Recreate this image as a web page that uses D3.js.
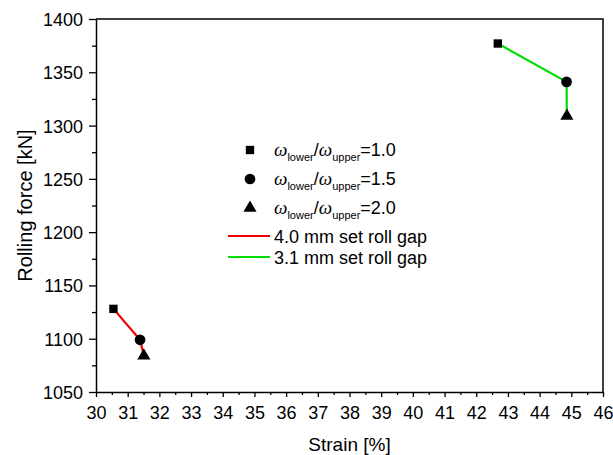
<!DOCTYPE html>
<html>
<head>
<meta charset="utf-8">
<script src="https://cdn.jsdelivr.net/npm/d3@7"></script>
<style>
  body { margin: 0; background: #fff; }
  text { font-family: "Liberation Sans", Arial, sans-serif; fill: #000; }
</style>
</head>
<body>
<div id="graph"></div>
<script>
// values
var ratios = ["1.0", "1.5", "2.0"];
var symbols = ["square", "circle", "triangle"];
var gap40Strain = [30.55, 31.39, 31.51];
var gap40Force = [1128, 1099, 1084];
var gap31Strain = [42.68, 44.85, 44.86];
var gap31Force = [1377, 1341, 1309];
var gapNames = ["4.0 mm set roll gap", "3.1 mm set roll gap"];
var gapColors = ["#f00000", "#00dd00"];
var xTicks = d3.range(30, 47, 1);
var yTicks = d3.range(1050, 1401, 50);

var margin = {top: 19, right: 10, bottom: 63, left: 96},
    width = 613 - margin.left - margin.right,
    height = 455 - margin.top - margin.bottom;

var svg = d3.select("#graph").append("svg")
    .attr("width", 613)
    .attr("height", 455);

var g = svg.append("g")
    .attr("transform", "translate(" + margin.left + "," + margin.top + ")");

var x = d3.scaleLinear().domain([30, 46]).range([0, width]);
var y = d3.scaleLinear().domain([1050, 1400]).range([height, 0]);

// minor ticks first
g.append("g")
    .attr("transform", "translate(0," + height + ")")
    .call(d3.axisBottom(x).tickValues(d3.range(30.5, 46, 1)).tickSize(3).tickFormat(""))
    .call(function(a) { a.select(".domain").remove(); });
g.append("g")
    .call(d3.axisLeft(y).tickValues(d3.range(1075, 1400, 50)).tickSize(4).tickFormat(""))
    .call(function(a) { a.select(".domain").remove(); });

var xAxis = g.append("g")
    .attr("transform", "translate(0," + height + ")")
    .call(d3.axisBottom(x).tickValues(xTicks).tickSize(5).tickPadding(9).tickSizeOuter(0));
xAxis.selectAll("text").style("font-size", "18px");

var yAxis = g.append("g")
    .call(d3.axisLeft(y).tickValues(yTicks).tickFormat(d3.format("d"))
      .tickSize(7).tickPadding(6).tickSizeOuter(0));
yAxis.selectAll("text").style("font-size", "18px").attr("dy", "0.36em");

g.selectAll(".tick line").attr("stroke-width", 1.3);
g.selectAll(".domain").attr("stroke-width", 1.5);

// frame
g.append("path")
    .attr("d", "M0,0H" + width + "V" + height)
    .attr("fill", "none")
    .attr("stroke", "#000")
    .attr("stroke-width", 1.5);

var symType = {square: d3.symbolSquare, circle: d3.symbolCircle, triangle: d3.symbolTriangle};
var symSize = {square: 70, circle: 90, triangle: 75};

var series = [
  {strain: gap40Strain, force: gap40Force, color: gapColors[0]},
  {strain: gap31Strain, force: gap31Force, color: gapColors[1]}
];

var line = d3.line()
    .x(function(d) { return x(d[0]); })
    .y(function(d) { return y(d[1]); });

series.forEach(function(s) {
  var pts = d3.zip(s.strain, s.force);
  g.append("path")
      .datum(pts)
      .attr("d", line)
      .attr("fill", "none")
      .attr("stroke", s.color)
      .attr("stroke-width", 2.2);
  g.selectAll(null)
      .data(pts)
      .enter().append("path")
      .attr("transform", function(d) { return "translate(" + x(d[0]) + "," + y(d[1]) + ")"; })
      .attr("d", function(d, i) { return d3.symbol().type(symType[symbols[i]]).size(symSize[symbols[i]])(); })
      .attr("fill", "#000");
});

// legend
var legend = svg.append("g").attr("transform", "translate(228,150)");
var rowH = [0, 29, 58, 86, 107];

ratios.forEach(function(r, i) {
  var row = legend.append("g").attr("transform", "translate(0," + rowH[i] + ")");
  row.append("path")
      .attr("transform", "translate(22,0)")
      .attr("d", d3.symbol().type(symType[symbols[i]]).size(symSize[symbols[i]])())
      .attr("fill", "#000");
  var t = row.append("text").attr("x", 46).attr("y", 6).style("font-size", "18px");
  t.append("tspan").style("font-family", "'Liberation Serif', serif").style("font-style", "italic").style("font-size", "19px").text("\u03c9");
  t.append("tspan").attr("dy", 5).style("font-size", "11px").text("lower");
  t.append("tspan").attr("dy", -5).style("font-size", "18px").text("/");
  t.append("tspan").style("font-family", "'Liberation Serif', serif").style("font-style", "italic").style("font-size", "19px").text("\u03c9");
  t.append("tspan").attr("dy", 5).style("font-size", "11px").text("upper");
  t.append("tspan").attr("dy", -5).style("font-size", "18px").text("=" + r);
});

gapNames.forEach(function(name, i) {
  var row = legend.append("g").attr("transform", "translate(0," + rowH[3 + i] + ")");
  row.append("line")
      .attr("x1", 0).attr("x2", 42)
      .attr("stroke", gapColors[i])
      .attr("stroke-width", 2.2);
  row.append("text")
      .attr("x", 46).attr("y", 6.5)
      .style("font-size", "18px")
      .text(name);
});

// axis titles
svg.append("text")
    .attr("x", margin.left + width / 2)
    .attr("y", 451)
    .attr("text-anchor", "middle")
    .style("font-size", "19px")
    .text("Strain [%]");

svg.append("text")
    .attr("transform", "translate(32," + (margin.top + height / 2) + ") rotate(-90)")
    .attr("text-anchor", "middle")
    .style("font-size", "20px")
    .text("Rolling force [kN]");
</script>
</body>
</html>
